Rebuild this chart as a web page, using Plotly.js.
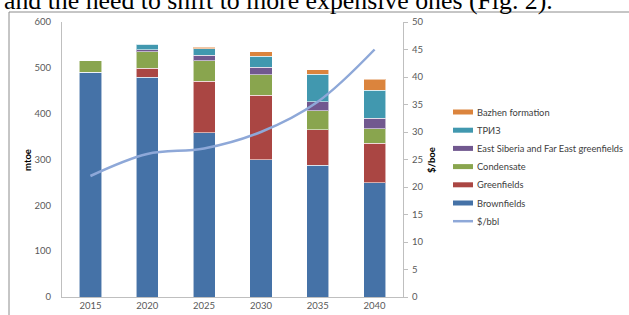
<!DOCTYPE html>
<html><head><meta charset="utf-8">
<script src="https://cdn.plot.ly/plotly-3.0.1.min.js"></script>
<style>html,body{margin:0;padding:0;background:#fff}#c{width:629px;height:315px}</style>
</head><body><div id="c"></div>
<script>
const years = ['2015','2020','2025','2030','2035','2040'];
const brownfields = [490, 479, 358, 300, 288, 249];
const greenfields = [0, 20, 113, 140, 77, 86];
const condensate = [25, 36, 44, 45, 41, 32];
const eastSiberia = [0, 5, 12, 16, 20, 23];
const triz = [0, 11, 15, 24, 60, 61];
const bazhen = [0, 0, 3, 10, 10, 24];
const pricePerBbl = [22, 26, 27, 30, 35.5, 45];

const seriesNames = ['Brownfields','Greenfields','Condensate','East Siberia and Far East greenfields','ТРИЗ','Bazhen formation'];
const lineName = '$/bbl';
const seriesVals = [brownfields, greenfields, condensate, eastSiberia, triz, bazhen];
const colors = ['#4572A7','#AA4643','#89A54E','#71588F','#4198AF','#DB843D'];
const lineColor = '#8EA8D8';

const traces = seriesVals.map((v,i)=>({
  type:'bar', x:years, y:v, name:seriesNames[i],
  marker:{color:colors[i], line:{color:'rgba(255,255,255,0.55)', width:1}},
  hoverinfo:'none'
}));
traces.push({
  type:'scatter', mode:'lines', x:years, y:pricePerBbl, yaxis:'y2', name:lineName,
  line:{color:lineColor, width:2.5, shape:'spline', smoothing:1}
});

// pixel -> paper helpers (plot area: x 62..403, y 22..297)
const L=62, R=403, T=22, B=297;
const px = x => (x-L)/(R-L);
const py = y => (B-y)/(B-T);

const gray = '#595959';
const shapes = [
  {type:'line', xref:'paper', yref:'paper', x0:px(9), x1:px(640), y0:py(12), y1:py(12), line:{color:'#8c8c8c', width:1}},
  {type:'line', xref:'paper', yref:'paper', x0:px(9), x1:px(9), y0:py(12), y1:py(330), line:{color:'#8c8c8c', width:1}}
];
const annotations = [
  {text:'and the need to shift to more expensive ones (Fig. 2).', xref:'paper', yref:'paper', x:px(2), xanchor:'left',
   y:py(1), yanchor:'middle', showarrow:false, font:{family:'"Liberation Serif", "Times New Roman", serif', size:25.8, color:'#000'}},
  {text:'<b>mtoe</b>', xref:'paper', yref:'paper', x:px(27), y:py(160), xanchor:'center', yanchor:'middle', textangle:-90, showarrow:false,
   font:{size:9.5, color:'#000'}},
  {text:'<b>$/boe</b>', xref:'paper', yref:'paper', x:px(431), y:py(160), xanchor:'center', yanchor:'middle', textangle:-90, showarrow:false,
   font:{size:9.5, color:'#000'}}
];
// custom legend (Excel style wide swatches)
const legendItems = [];
for (let i=seriesNames.length-1;i>=0;i--) legendItems.push({name:seriesNames[i], color:colors[i], bar:true});
legendItems.push({name:lineName, color:lineColor, bar:false});
legendItems.forEach((it,k)=>{
  const yc = 112 + k*18.2;
  if (it.bar) {
    shapes.push({type:'rect', xref:'paper', yref:'paper', x0:px(453), x1:px(473), y0:py(yc-2.5), y1:py(yc+2.5), fillcolor:it.color, line:{width:0}});
  } else {
    shapes.push({type:'line', xref:'paper', yref:'paper', x0:px(453), x1:px(473), y0:py(yc), y1:py(yc), line:{color:it.color, width:2.5}});
  }
  annotations.push({text:it.name, xref:'paper', yref:'paper', x:px(475), xanchor:'left', y:py(yc), yanchor:'middle', showarrow:false,
    font:{size:9.3, color:'#404040'}});
});

const layout = {
  width:629, height:315,
  margin:{l:L, r:629-R, t:T, b:315-B},
  paper_bgcolor:'#fff', plot_bgcolor:'#fff',
  barmode:'stack', bargap:0.61,
  font:{family:'Lato, "Open Sans", sans-serif', size:9.5, color:gray},
  showlegend:false,
  xaxis:{type:'category', range:[-0.5,5.5], showline:true, linecolor:'#bfbfbf', linewidth:1, ticks:'', showgrid:false, zeroline:false,
    automargin:false, tickfont:{size:9.5,color:gray}},
  yaxis:{range:[0,600], dtick:100, showline:true, linecolor:'#bfbfbf', ticks:'', showgrid:false, zeroline:false,
    automargin:false, ticklabelstandoff:8, tickfont:{size:9.5,color:gray}},
  yaxis2:{overlaying:'y', side:'right', range:[0,50], dtick:5, showline:true, linecolor:'#bfbfbf', ticks:'outside', ticklen:4, tickcolor:'#bfbfbf',
    automargin:false, ticklabelstandoff:2, showgrid:false, zeroline:false, tickfont:{size:9.5,color:gray}},
  shapes:shapes,
  annotations:annotations
};
Plotly.newPlot('c', traces, layout, {displayModeBar:false, staticPlot:true});
</script></body></html>
